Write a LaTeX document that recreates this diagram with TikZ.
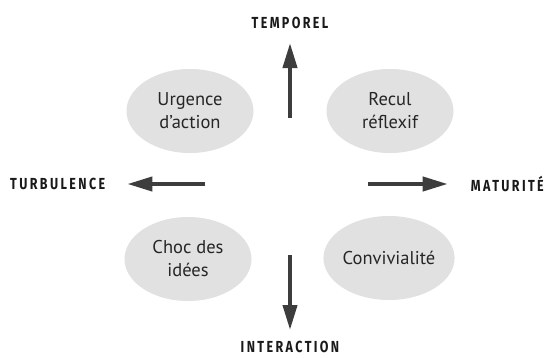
\documentclass[tikz,border=0pt]{standalone}
\usepackage{fontspec}
\setmainfont{PT Sans}
\newfontfamily\lblfont{Fira Sans}[FakeStretch=0.78,LetterSpace=15]
\usetikzlibrary{positioning, arrows.meta, shapes.geometric}
\definecolor{bubblegray}{HTML}{E1E1E2}
\definecolor{arrowgray}{HTML}{3D3D3D}

\begin{document}
\begin{tikzpicture}[x=1pt, y=-1pt,
        bubble/.style = {ellipse, fill=bubblegray, minimum width=127pt, minimum height=84pt, inner sep=0pt, align=center, text=black!85, font=\fontsize{18.5}{23}\selectfont},
        axis/.style = {inner sep=0pt, font=\lblfont\bfseries\fontsize{16}{18}\selectfont, text=black!90},
        arrow/.style = {line width=4pt, draw=arrowgray, -{Triangle[length=25pt, width=14pt]}}%
    ]
        \useasboundingbox (0,0) rectangle (545,357);
        \node[bubble] (urgence) at (190,111) {Urgence\\d'action};
        \node[bubble] (recul) at (390,111) {Recul\\réflexif};
        \node[bubble] (choc) at (188,259) {Choc des\\idées};
        \node[bubble] (convivialite) at (389,258) {Convivialité};

        \node[axis, anchor=base] (temporel) at (290,28) {TEMPOREL};
        \node[axis, anchor=base] (interaction) at (290,352) {INTERACTION};
        \node[axis, anchor=west] (turbulence) at (10,184) {TURBULENCE};
        \node[axis, anchor=east] (maturite) at (544,184) {MATURITÉ};

        \coordinate (up) at (290,118);
        \coordinate (down) at (290,255);
        \coordinate (left) at (205,184);
        \coordinate (right) at (368,184);

        \draw[arrow] (up) -- ([yshift=-15pt]temporel.base);
        \draw[arrow] (down) -- ([yshift=22pt]interaction.base);
        \draw[arrow] (left) -- ([xshift=22pt]turbulence.east);
        \draw[arrow] (right) -- ([xshift=-23pt]maturite.west);
    \end{tikzpicture}
\end{document}
